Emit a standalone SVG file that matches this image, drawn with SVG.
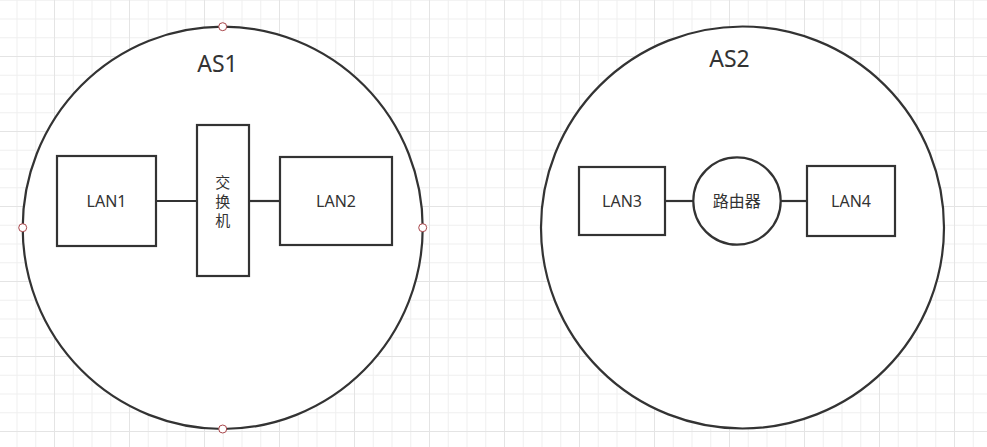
<svg xmlns="http://www.w3.org/2000/svg" width="987" height="447" viewBox="0 0 987 447">
  <defs>
    <pattern id="grid" patternUnits="userSpaceOnUse" x="-21" y="-19" width="75" height="75">
      <rect x="0" y="0" width="75" height="75" fill="#ffffff"/>
      <g fill="#f0f0f0">
        <rect x="18.75" y="0" width="1" height="75"/>
        <rect x="37.5" y="0" width="1" height="75"/>
        <rect x="56.25" y="0" width="1" height="75"/>
        <rect x="0" y="18.75" width="75" height="1"/>
        <rect x="0" y="37.5" width="75" height="1"/>
        <rect x="0" y="56.25" width="75" height="1"/>
      </g>
      <g fill="#e4e4e4">
        <rect x="0" y="0" width="1" height="75"/>
        <rect x="0" y="0" width="75" height="1"/>
      </g>
    </pattern>
    <style>
      .shape { fill: #ffffff; stroke: #333333; stroke-width: 2.2; }
      .link { fill: none; stroke: #333333; stroke-width: 2.2; }
      .handle { fill: #ffffff; stroke: #a8454a; stroke-width: 1; }
      .lbl { font-family: "Noto Sans", "Noto Sans CJK SC", sans-serif; font-size: 16px; fill: #333333; text-anchor: middle; }
      .title { font-family: "Noto Sans", "Noto Sans CJK SC", sans-serif; font-size: 23px; fill: #333333; text-anchor: middle; }
      .cjk { font-family: "Noto Sans CJK SC", "Noto Sans", sans-serif; font-size: 16px; fill: #333333; text-anchor: middle; }
      .vcjk { font-family: "Noto Sans CJK SC", "Noto Sans", sans-serif; font-size: 15px; fill: #333333; text-anchor: middle; }
    </style>
  </defs>

  <rect x="0" y="0" width="987" height="447" fill="url(#grid)"/>

  <g id="as1">
    <ellipse class="shape" cx="222.7" cy="227.8" rx="200" ry="201.2"/>
    <text class="title" x="217.5" y="72">AS1</text>
  </g>
  <g id="as2">
    <ellipse class="shape" cx="742.5" cy="227.5" rx="201.5" ry="201"/>
    <text class="title" x="729.5" y="67">AS2</text>
  </g>

  <g id="connectors">
    <line class="link" x1="157" y1="201" x2="197" y2="201"/>
    <line class="link" x1="249" y1="201" x2="280" y2="201"/>
    <line class="link" x1="665" y1="201" x2="693.3" y2="201"/>
    <line class="link" x1="780.7" y1="201" x2="807" y2="201"/>
  </g>

  <g id="lan1">
    <rect class="shape" x="57" y="156" width="99" height="90"/>
    <text class="lbl" x="106.5" y="206.7">LAN1</text>
  </g>
  <g id="switch">
    <rect class="shape" x="197" y="125" width="52" height="151"/>
    <text class="vcjk" x="222.7"><tspan x="222.7" y="188.3">交</tspan><tspan x="222.7" y="207.3">换</tspan><tspan x="222.7" y="226.3">机</tspan></text>
  </g>
  <g id="lan2">
    <rect class="shape" x="280" y="157" width="112" height="88"/>
    <text class="lbl" x="336" y="206.7">LAN2</text>
  </g>

  <g id="lan3">
    <rect class="shape" x="579" y="167" width="86" height="68"/>
    <text class="lbl" x="622" y="206.7">LAN3</text>
  </g>
  <g id="router">
    <circle class="shape" cx="737" cy="201" r="43.7"/>
    <text class="cjk" x="736.8" y="206.6">路由器</text>
  </g>
  <g id="lan4">
    <rect class="shape" x="807" y="166" width="88" height="70"/>
    <text class="lbl" x="851" y="206.7">LAN4</text>
  </g>

  <g id="handles">
    <circle class="handle" cx="222.7" cy="26.7" r="4"/>
    <circle class="handle" cx="22.7" cy="227.7" r="4"/>
    <circle class="handle" cx="422.7" cy="227.7" r="4"/>
    <circle class="handle" cx="222.7" cy="429" r="4"/>
  </g>
</svg>
